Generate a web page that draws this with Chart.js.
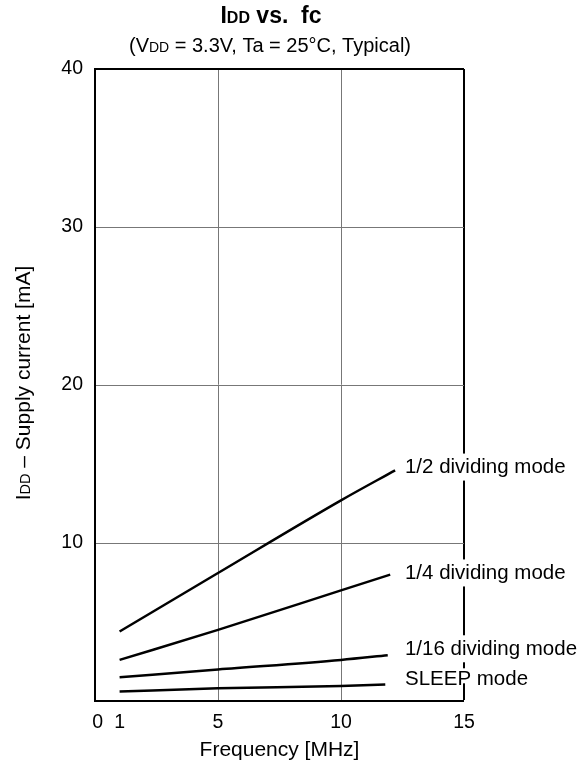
<!DOCTYPE html>
<html><head><meta charset="utf-8">
<script src="https://cdn.jsdelivr.net/npm/chart.js@4"></script>
<style>html,body{margin:0;padding:0;background:#fff}#wrap{width:586px;height:769px}</style>
</head><body><div id="wrap"><canvas id="c" width="586" height="769"></canvas></div>
<script>
// ---- data ----
const seriesNames = ['1/2 dividing mode', '1/4 dividing mode', '1/16 dividing mode', 'SLEEP mode'];
const freqHalf = [1, 5, 10, 12.2];
const iddHalf = [4.4, 8.1, 12.7, 14.6];
const freqQuarter = [1, 5, 10, 12.0];
const iddQuarter = [2.6, 4.5, 7.0, 8.0];
const freqSixteenth = [1, 5, 10, 11.9];
const iddSixteenth = [1.5, 2.0, 2.6, 2.9];
const freqSleep = [1, 5, 10, 11.8];
const iddSleep = [0.6, 0.8, 0.95, 1.05];
const xTicks = [0, 1, 5, 10, 15];
const yTicks = [0, 10, 20, 30, 40];
const labelFreq = [12.6, 12.6, 12.6, 12.6];
const labelIdd = [14.9, 8.2, 3.4, 1.5];

const FONT = '"Liberation Sans", Arial, sans-serif';
function pts(xs, ys) { return xs.map((x, i) => ({x: x, y: ys[i]})); }
const seriesData = [pts(freqHalf, iddHalf), pts(freqQuarter, iddQuarter), pts(freqSixteenth, iddSixteenth), pts(freqSleep, iddSleep)];

function drawRuns(ctx, runs, cx, baseY, weight) {
  let w = 0;
  runs.forEach(r => { ctx.font = weight + ' ' + r[1] + 'px ' + FONT; w += ctx.measureText(r[0]).width; });
  let x = cx - w / 2;
  ctx.textAlign = 'left';
  ctx.textBaseline = 'alphabetic';
  runs.forEach(r => { ctx.font = weight + ' ' + r[1] + 'px ' + FONT; ctx.fillText(r[0], x, baseY); x += ctx.measureText(r[0]).width; });
}

const textPlugin = {
  id: 'textPlugin',
  afterDraw(chart) {
    const ctx = chart.ctx;
    const xs = chart.scales.x, ys = chart.scales.y;
    ctx.save();
    ctx.fillStyle = '#000';
    // title
    drawRuns(ctx, [['I', 23], ['DD', 16], [' vs.  fc', 23]], 271, 23, 'bold');
    drawRuns(ctx, [['(V', 20], ['DD', 14], [' = 3.3V, Ta = 25°C, Typical)', 20]], 270, 52, 'normal');
    // y axis title
    ctx.save();
    ctx.translate(30, 383);
    ctx.rotate(-Math.PI / 2);
    drawRuns(ctx, [['I', 21], ['DD', 14.5], [' – Supply current [mA]', 21]], 0, 0, 'normal');
    ctx.restore();
    // series labels with white backing
    const fs = 20.5;
    ctx.font = fs + 'px ' + FONT;
    seriesNames.forEach((name, i) => {
      const px = xs.getPixelForValue(labelFreq[i]);
      const py = ys.getPixelForValue(labelIdd[i]);
      const w = ctx.measureText(name).width;
      ctx.fillStyle = '#fff';
      if (i < 3) ctx.fillRect(px - 3, py - 12, w + 6, 27);
      else ctx.fillRect(px - 3, py - 9, w + 6, 15);
      ctx.fillStyle = '#000';
      ctx.textAlign = 'left';
      ctx.textBaseline = 'alphabetic';
      ctx.fillText(name, px, py + fs * 0.358);
    });
    ctx.restore();
  }
};

new Chart(document.getElementById('c'), {
  type: 'line',
  data: {
    datasets: seriesData.map((d, i) => ({
      label: seriesNames[i],
      data: d,
      borderColor: '#000',
      borderWidth: 2.5,
      pointRadius: 0,
      fill: false,
      cubicInterpolationMode: 'monotone'
    }))
  },
  options: {
    responsive: false,
    animation: false,
    events: [],
    layout: {padding: {left: 0, right: 122, top: 69, bottom: 0}},
    plugins: {legend: {display: false}, tooltip: {enabled: false}, title: {display: false}},
    scales: {
      x: {
        type: 'linear', min: 0, max: 15,
        afterBuildTicks(s) { s.ticks = xTicks.map(v => ({value: v})); },
        afterFit(s) { s.height = 68; },
        ticks: {font: {family: FONT, size: 19.5}, color: '#000', padding: 10, autoSkip: false, maxRotation: 0,
                callback: v => v === 0 ? ' 0' : String(v)},
        grid: {
          drawTicks: false,
          color: c => (c.tick && c.tick.value === 15) ? '#000' : '#777',
          lineWidth: c => { const v = c.tick ? c.tick.value : -1; return v === 15 ? 2 : (v === 5 || v === 10) ? 1 : 0; }
        },
        border: {display: true, color: '#000', width: 2},
        title: {display: true, text: 'Frequency [MHz]', font: {family: FONT, size: 21}, color: '#000', padding: {top: 0, bottom: 6}}
      },
      y: {
        type: 'linear', min: 0, max: 40,
        afterBuildTicks(s) { s.ticks = yTicks.map(v => ({value: v})); },
        afterFit(s) { s.width = 95; },
        ticks: {font: {family: FONT, size: 19.5}, color: '#000', padding: 12, callback: v => v === 0 ? '' : String(v)},
        grid: {
          drawTicks: false,
          color: c => (c.tick && c.tick.value === 40) ? '#000' : '#777',
          lineWidth: c => { const v = c.tick ? c.tick.value : -1; return v === 40 ? 2 : (v === 10 || v === 20 || v === 30) ? 1 : 0; }
        },
        border: {display: true, color: '#000', width: 2}
      }
    }
  },
  plugins: [textPlugin]
});
</script>
</body></html>
